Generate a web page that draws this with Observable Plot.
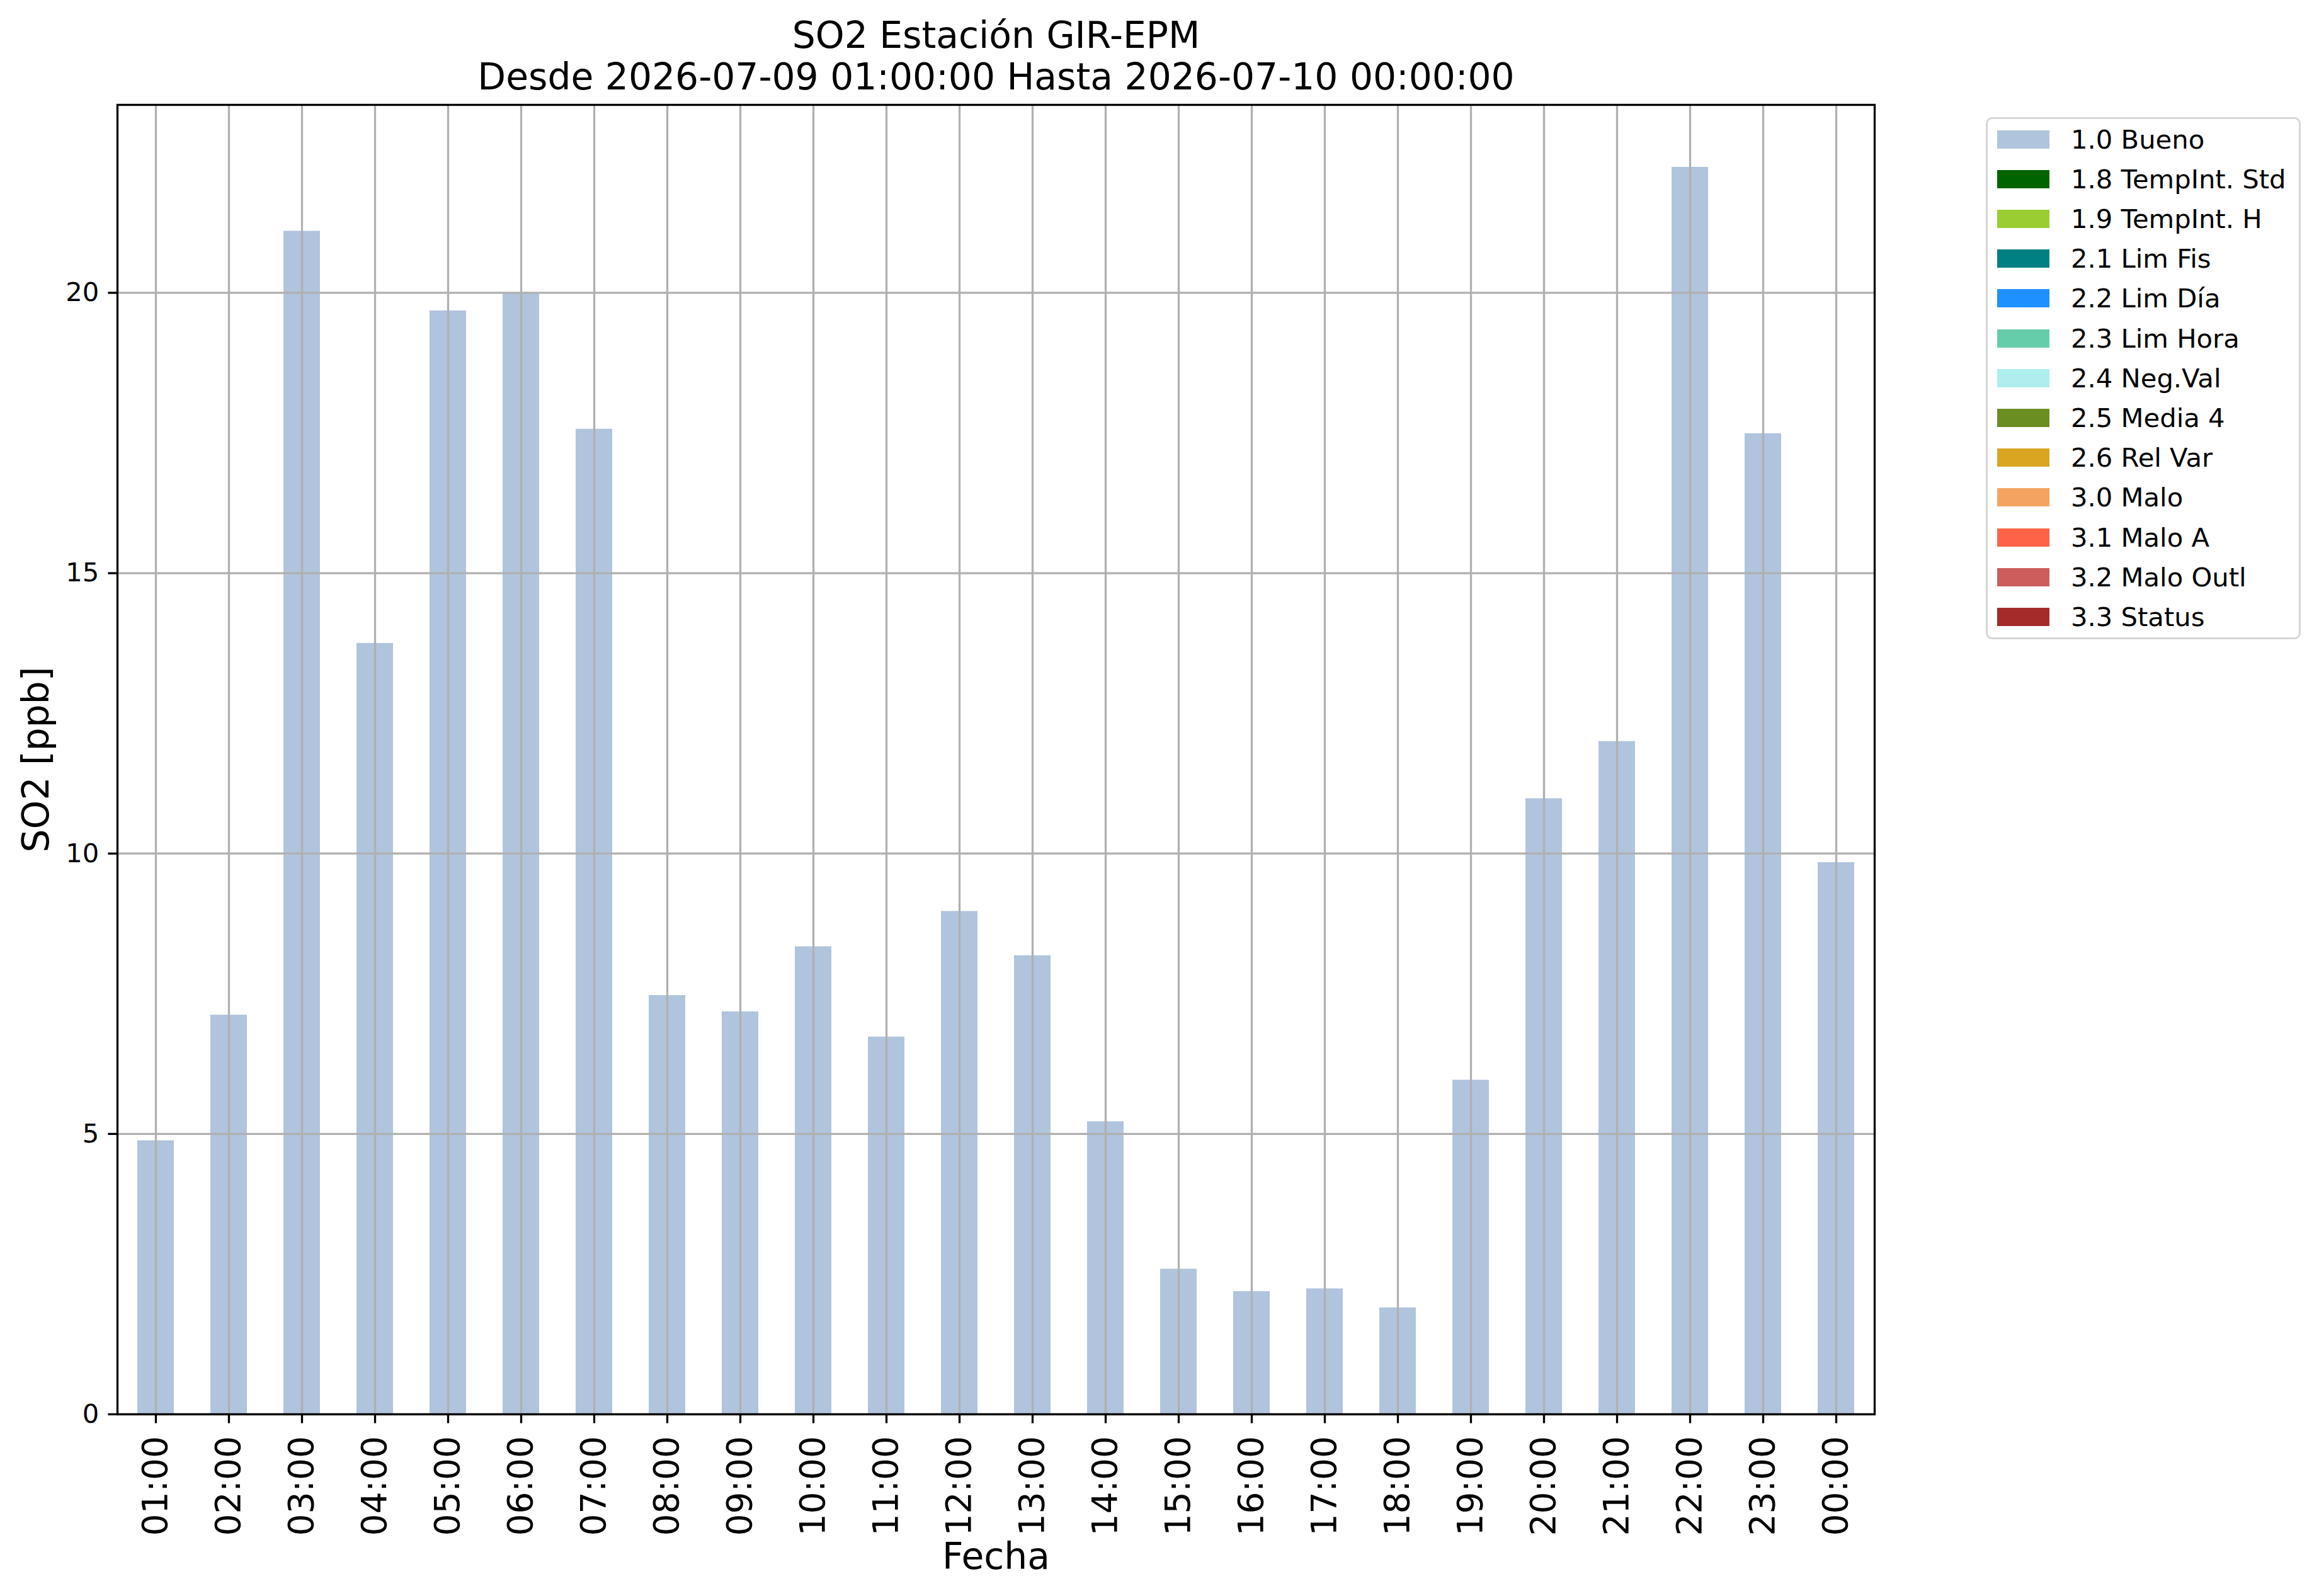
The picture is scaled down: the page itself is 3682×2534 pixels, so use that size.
<!DOCTYPE html>
<html><head><meta charset="utf-8">
<script src="https://cdn.jsdelivr.net/npm/d3@7"></script>
<script src="https://cdn.jsdelivr.net/npm/@observablehq/plot@0.6"></script>
<style>
html,body{margin:0;padding:0;background:#fff;}
#wrap{position:relative;width:3682px;height:2534px;font-family:"DejaVu Sans",sans-serif;overflow:hidden;}
#chart{position:absolute;left:0;top:0;}
#legend{position:absolute;left:3153px;top:186px;width:494px;height:823px;border:3px solid #d6d6d6;border-radius:10px;background:#fff;}
.item{position:absolute;left:15px;height:29px;width:470px;}
.sw{position:absolute;left:0;top:0;width:83px;height:29px;}
.lb{position:absolute;left:117px;top:0;font-size:41.7px;line-height:29px;white-space:nowrap;color:#000;}
</style>
</head><body>
<div id="wrap"><div id="chart"></div><div id="legend"></div></div>
<script>
const hours = ["01:00","02:00","03:00","04:00","05:00","06:00","07:00","08:00","09:00","10:00","11:00","12:00","13:00","14:00","15:00","16:00","17:00","18:00","19:00","20:00","21:00","22:00","23:00","00:00"];
const so2 = [4.88,7.12,21.1,13.75,19.68,20.0,17.57,7.47,7.18,8.34,6.73,8.97,8.18,5.22,2.59,2.19,2.24,1.90,5.96,10.98,12.0,22.24,17.49,9.84];
const yTicks = [0,5,10,15,20];
const legendLabels = ["1.0 Bueno","1.8 TempInt. Std","1.9 TempInt. H","2.1 Lim Fis","2.2 Lim Día","2.3 Lim Hora","2.4 Neg.Val","2.5 Media 4","2.6 Rel Var","3.0 Malo","3.1 Malo A","3.2 Malo Outl","3.3 Status"];
const legendColors = ["#b0c4de","#006400","#9acd32","#008080","#1e90ff","#66cdaa","#afeeee","#6b8e23","#daa520","#f4a460","#ff6347","#cd5c5c","#a52a2a"];
const title1 = "SO2 Estación GIR-EPM";
const title2 = "Desde 2026-07-09 01:00:00 Hasta 2026-07-10 00:00:00";
const xLabel = "Fecha";
const yLabel = "SO2 [ppb]";

const data = hours.map((h,i)=>({hour:h, value:so2[i]}));
const W=3682, H=2534;
const mL=186, mT=166, mR=W-2976, mB=H-2245;
const grid = {stroke:"#b0b0b0", strokeOpacity:1, strokeWidth:3.3};

const chart = Plot.plot({
  width:W, height:H, marginLeft:mL, marginTop:mT, marginRight:mR, marginBottom:mB,
  style:{fontFamily:"DejaVu Sans", background:"white", color:"black", overflow:"visible"},
  x:{type:"band", domain:hours, paddingInner:0.5, paddingOuter:0.25, label:null},
  y:{domain:[0, d3.max(so2)*1.05], label:null},
  marks:[
    Plot.barY(data,{x:"hour", y:"value", fill:legendColors[0]}),
    Plot.gridX(hours, grid),
    Plot.gridY(yTicks, grid),
    Plot.frame({stroke:"black", strokeWidth:3.3}),
    Plot.axisY(yTicks,{tickSize:14.6, tickPadding:14.6, fontSize:41.7, strokeWidth:3.3, label:null, tickFormat:d=>String(d)}),
    Plot.axisX(hours,{tickSize:14.6, tickPadding:20, tickRotate:-90, fontSize:55, strokeWidth:3.3, label:null}),
    Plot.text([yLabel],{text:d=>d, frameAnchor:"left", dx:-128, rotate:-90, textAnchor:"middle", lineAnchor:"middle", fontSize:58.3}),
    Plot.text([xLabel],{text:d=>d, frameAnchor:"bottom", dy:227, textAnchor:"middle", lineAnchor:"middle", fontSize:58.3}),
    Plot.text([title1],{text:d=>d, frameAnchor:"top", dy:-109.3, textAnchor:"middle", lineAnchor:"middle", fontSize:58.3}),
    Plot.text([title2],{text:d=>d, frameAnchor:"top", dy:-43.1, textAnchor:"middle", lineAnchor:"middle", fontSize:58.3})
  ]
});
document.getElementById("chart").appendChild(chart);

const leg = document.getElementById("legend");
legendLabels.forEach((lab,i)=>{
  const it = document.createElement("div");
  it.className="item";
  it.style.top = (17.5 + i*63.2) + "px";
  const sw = document.createElement("div");
  sw.className="sw"; sw.style.background = legendColors[i];
  const lb = document.createElement("div");
  lb.className="lb"; lb.textContent = lab;
  it.appendChild(sw); it.appendChild(lb);
  leg.appendChild(it);
});
</script>
</body></html>
